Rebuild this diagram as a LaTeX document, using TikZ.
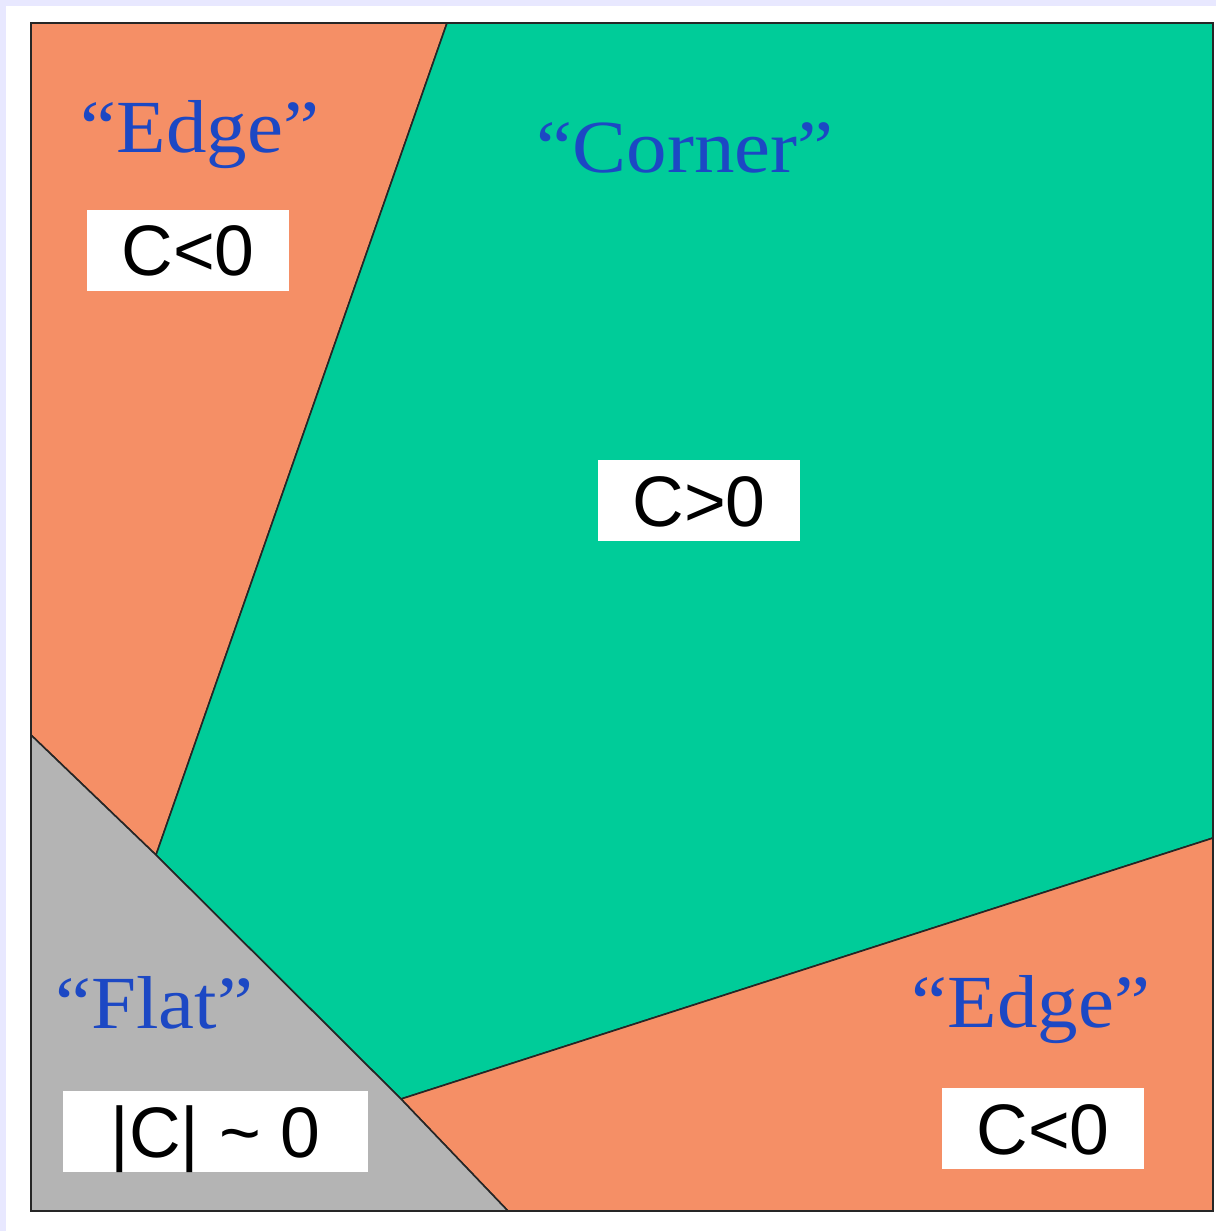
\documentclass[tikz,border=0pt]{standalone}
\usepackage{fontspec}
\setmainfont{Liberation Serif}
\newfontfamily\labfont[FakeStretch=1.08]{Liberation Serif}
\newfontfamily\boxfont{Liberation Sans}
\definecolor{lav}{RGB}{232,232,255}
\definecolor{edgeor}{RGB}{245,143,102}
\definecolor{cornergr}{RGB}{0,204,153}
\definecolor{flatgr}{RGB}{180,180,180}
\definecolor{labblue}{RGB}{28,72,196}
\begin{document}
\begin{tikzpicture}[x=1pt,y=-1pt,
  region/.style={draw=black!85,line width=1.6pt,line join=round},
  lab/.style={anchor=base,text=labblue,inner sep=0pt,font=\labfont\fontsize{75}{80}\selectfont},
  valbox/.style={fill=white,inner sep=0pt,minimum height=81pt,text height=51pt,text depth=0pt,font=\boxfont\fontsize{71.5}{80}\selectfont}]
\useasboundingbox (0,0) rectangle (1216,1231);
\fill[lav] (0,0) rectangle (1216,1231);
\fill[white] (6,6) rectangle (1216,1231);
% key points
\coordinate (TL) at (31,23);
\coordinate (TR) at (1213,23);
\coordinate (BR) at (1213,1211);
\coordinate (BL) at (31,1211);
\coordinate (T1) at (447,23);
\coordinate (J1) at (156,855);
\coordinate (L1) at (31,735);
\coordinate (J2) at (401,1099);
\coordinate (B1) at (508,1211);
\coordinate (R1) at (1213,838);
% regions
\path[region,fill=edgeor] (TL) -- (T1) -- (J1) -- (L1) -- cycle;
\path[region,fill=cornergr] (T1) -- (TR) -- (R1) -- (J2) -- (J1) -- cycle;
\path[region,fill=edgeor] (J2) -- (R1) -- (BR) -- (B1) -- cycle;
\path[region,fill=flatgr] (L1) -- (J1) -- (J2) -- (B1) -- (BL) -- cycle;
\draw[black!85,line width=2pt] (TL) rectangle (BR);
% labels
\node[lab] (edge1) at (200,152) {“Edge”};
\node[lab] (corner) at (685,172) {“Corner”};
\node[lab] (flat) at (154,1028) {“Flat”};
\node[lab] (edge2) at (1031,1027) {“Edge”};
% value boxes
\node[valbox,minimum width=202pt] (v1) at (188,250) {C<0};
\node[valbox,minimum width=202pt] (v2) at (699,500.5) {C>0};
\node[valbox,minimum width=305pt] (v3) at (215.5,1131.5) {|C| \char`\~{} 0};
\node[valbox,minimum width=202pt] (v4) at (1043,1128.5) {C<0};
\end{tikzpicture}
\end{document}
